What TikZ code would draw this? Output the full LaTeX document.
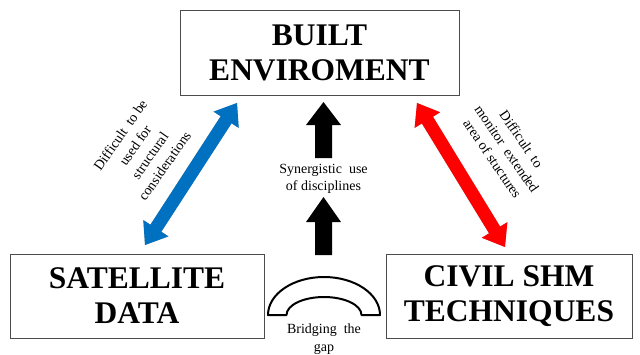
\documentclass[tikz,border=0pt]{standalone}
\usepackage{fontspec}
\setmainfont{Liberation Serif}
\usetikzlibrary{calc}
\definecolor{arrblue}{RGB}{0,112,192}
\definecolor{arrred}{RGB}{255,0,0}
\newcommand\dblarr[3]{%
  \fill[#3] (#1) -- ($(#1)!20pt!(#2)!15pt!90:(#2)$) -- ($(#1)!20pt!(#2)!6.5pt!90:(#2)$)
   -- ($(#2)!20pt!(#1)!6.5pt!-90:(#1)$) -- ($(#2)!20pt!(#1)!15pt!-90:(#1)$) -- (#2)
   -- ($(#2)!20pt!(#1)!15pt!90:(#1)$) -- ($(#2)!20pt!(#1)!6.5pt!90:(#1)$)
   -- ($(#1)!20pt!(#2)!6.5pt!-90:(#2)$) -- ($(#1)!20pt!(#2)!15pt!-90:(#2)$) -- cycle;}
\begin{document}
\begin{tikzpicture}[x=1pt,y=-1pt,
  box/.style={draw=black!70, line width=0.8pt, align=center, inner sep=0pt,
    font=\fontsize{31.5}{35}\selectfont\bfseries},
  note/.style={align=center, inner sep=0pt, font=\fontsize{14}{17}\selectfont},
  upshape/.style={fill=black},
  bridgeshape/.style={draw=black, fill=white, line width=2pt, line join=round}]
\useasboundingbox (0,0) rectangle (640,354);
\fill[white] (0,0) rectangle (640,354);

\node[box, minimum width=279pt, minimum height=85pt] (built) at (319.5,52.5) {BUILT\\ENVIROMENT};
\node[box, minimum width=254pt, minimum height=84pt] (sat) at (137,296) {SATELLITE\\DATA};
\node[box, minimum width=246pt, minimum height=84pt] (civ) at (509,296) {CIVIL SHM\\TECHNIQUES};

% diagonal double arrows
\coordinate (bA) at (145,245);
\coordinate (bB) at (237,103);
\coordinate (rA) at (417,103);
\coordinate (rB) at (505,247);
\begin{scope}[shift={(1.8,1.8)}]
  \dblarr{bA}{bB}{black, opacity=0.3}
  \dblarr{rA}{rB}{black, opacity=0.3}
\end{scope}
\dblarr{bA}{bB}{arrblue}
\dblarr{rA}{rB}{arrred}

% vertical black arrows
\coordinate (u1) at (323.5,102);
\coordinate (u2) at (323.5,197);
\fill[upshape] (u1) -- ++(17.5,23) -- ++(-9,0) -- ++(0,33) -- ++(-17,0) -- ++(0,-33) -- ++(-9,0) -- cycle;
\fill[upshape] (u2) -- ++(17.5,25) -- ++(-9,0) -- ++(0,33) -- ++(-17,0) -- ++(0,-33) -- ++(-9,0) -- cycle;

% bridge
\coordinate (brL) at (268,315);
\draw[bridgeshape] (brL) arc[start angle=180, end angle=360, x radius=56, y radius=38]
  -- ++(-18.5,0) arc[start angle=360, end angle=180, x radius=37.5, y radius=18] -- cycle;

% texts
\node[note] (syn) at (323.5,179) {Synergistic\ \ use\\of disciplines};
\node[note, font=\fontsize{14}{18}\selectfont] (gap) at (324,339) {Bridging\ \ the\\gap};
\node[note, font=\fontsize{14}{18}\selectfont, rotate=55] (ltext) at (142.5,150.5) {Difficult\ \ to be\\used for\\structural\\considerations};
\node[note, font=\fontsize{14}{17.5}\selectfont, rotate=-55.5] (rtext) at (507,149) {Difficult\ \ to\\monitor\ \ extended\\area of stuctures};
\end{tikzpicture}
\end{document}
